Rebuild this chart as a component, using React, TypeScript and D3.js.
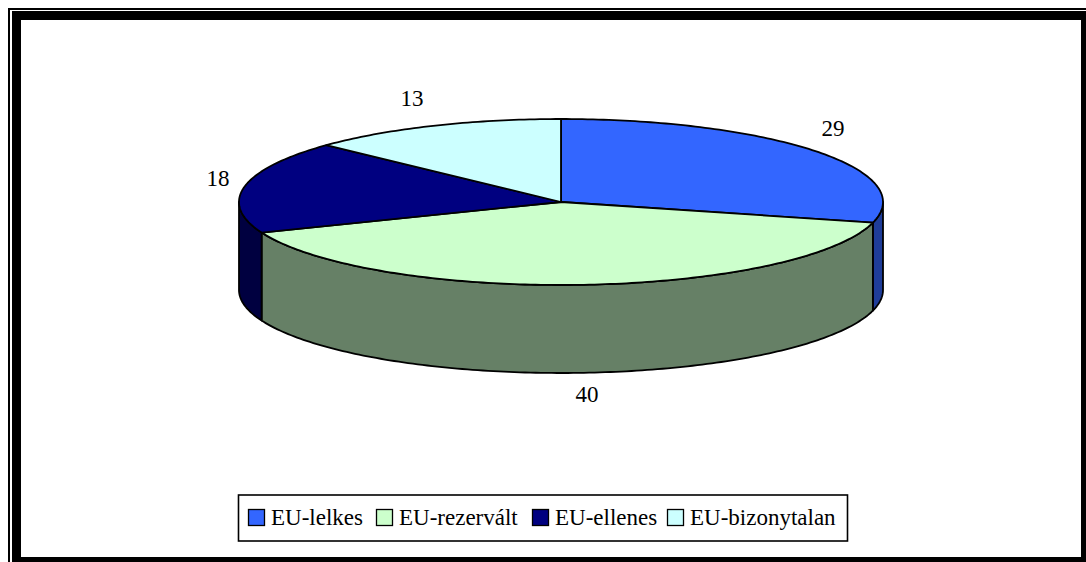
import React from "react";
import * as d3 from "d3";

const categories = ["EU-lelkes", "EU-rezervált", "EU-ellenes", "EU-bizonytalan"];
const values = [29, 40, 18, 13];
const topColors = ["#3366ff", "#ccffcc", "#000080", "#ccffff"];
const wallColors = ["#1f3d99", "#668066", "#000040", "#668080"];
const labelOffsets: [number, number][] = [
  [272, -74],
  [26, 192],
  [-343, -24],
  [-149, -104],
];
const legendSwatchX = [248, 376, 532, 667];

const W = 1086;
const H = 562;
const cx = 561;
const cy = 202;
const rx = 322;
const ry = 83;
const depth = 88;
const serif = "'Liberation Serif','Times New Roman',serif";

const px = d3.scaleLinear().domain([-1, 1]).range([cx - rx, cx + rx]);
const py = d3.scaleLinear().domain([-1, 1]).range([cy - ry, cy + ry]);
const pie = d3.pie<number>().sort(null);
const arcs = pie(values);

const sample = (a: number, b: number) => {
  const n = Math.max(2, Math.ceil(Math.abs(b - a) * 60));
  return d3.range(n + 1).map((i) => a + ((b - a) * i) / n);
};
const pt = (t: number, dy = 0): [number, number] => [px(Math.sin(t)), py(-Math.cos(t)) + dy];
const line = d3.line<[number, number]>();

const topPath = (a: number, b: number) =>
  line([[cx, cy], ...sample(a, b).map((t) => pt(t))])! + "Z";

const wallPath = (a: number, b: number) => {
  const s = Math.max(a, Math.PI / 2);
  const e = Math.min(b, (3 * Math.PI) / 2);
  if (e <= s) return null;
  const ts = sample(s, e);
  return line([...ts.map((t) => pt(t)), ...ts.slice().reverse().map((t) => pt(t, depth))])! + "Z";
};

export default function App() {
  return (
    <svg
      width={W}
      height={H}
      viewBox={`0 0 ${W} ${H}`}
      style={{ position: "fixed", left: 0, top: 0, display: "block" }}
    >
      <rect width={W} height={H} fill="#fff" />
      <path
        fill="#000"
        fillRule="evenodd"
        d={`M8 8H${W}V${H}H8Z M10 10V${H}H12V11H${W}V10Z`}
      />
      <rect x={21} y={20} width={1060} height={537} fill="#fff" />

      {arcs.map((d, i) => {
        const p = wallPath(d.startAngle, d.endAngle);
        return p ? (
          <path key={`w${i}`} d={p} fill={wallColors[i]} stroke="#000" strokeWidth={1.8} strokeLinejoin="round" />
        ) : null;
      })}
      {arcs.map((d, i) => (
        <path
          key={`t${i}`}
          d={topPath(d.startAngle, d.endAngle)}
          fill={topColors[i]}
          stroke="#000"
          strokeWidth={1.8}
          strokeLinejoin="round"
        />
      ))}
      {arcs.map((d, i) => (
        <text
          key={`l${i}`}
          x={cx + labelOffsets[i][0]}
          y={cy + labelOffsets[i][1]}
          dy="0.35em"
          textAnchor="middle"
          fontFamily={serif}
          fontSize={23}
          fill="#000"
        >
          {d.value}
        </text>
      ))}

      <rect x={238.5} y={495} width={609} height={46} fill="#fff" stroke="#000" strokeWidth={1.6} />
      {categories.map((c, i) => (
        <g key={c}>
          <rect
            x={legendSwatchX[i] + 0.5}
            y={509.5}
            width={16}
            height={16}
            fill={topColors[i]}
            stroke="#000"
            strokeWidth={1.3}
          />
          <text x={legendSwatchX[i] + 23} y={525} fontFamily={serif} fontSize={23} fill="#000">
            {c}
          </text>
        </g>
      ))}
    </svg>
  );
}
